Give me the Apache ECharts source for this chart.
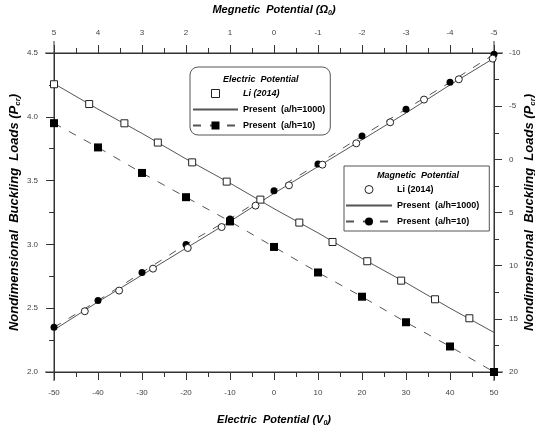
<!DOCTYPE html>
<html>
<head>
<meta charset="utf-8">
<script src="https://cdn.jsdelivr.net/npm/echarts@6/dist/echarts.min.js"></script>
<style>html,body{margin:0;padding:0;background:#fff;}#c{width:535px;height:426px;}</style>
</head>
<body>
<div id="c"></div>
<script>
// ---- data ----
const elecX = [-50, -40, -30, -20, -10, 0, 10, 20, 30, 40, 50];
const elecPresent1000 = [4.26, 4.06, 3.87, 3.67, 3.48, 3.28, 3.09, 2.89, 2.70, 2.50, 2.31];
const elecPresent10 = [3.95, 3.76, 3.56, 3.37, 3.18, 2.98, 2.78, 2.59, 2.39, 2.20, 2.00];
const elecLiX = [-50, -42, -34, -26.4, -18.6, -10.75, -3.1, 5.75, 13.3, 21.2, 28.9, 36.6, 44.4];
const elecLiY = [4.255, 4.10, 3.949, 3.798, 3.643, 3.492, 3.351, 3.171, 3.019, 2.868, 2.716, 2.570, 2.421];

const magX = [5, 4, 3, 2, 1, 0, -1, -2, -3, -4, -5];
const magPresent1000 = [2.33, 2.55, 2.76, 2.97, 3.18, 3.40, 3.61, 3.82, 4.03, 4.25, 4.46];
const magPresent10 = [2.35, 2.56, 2.78, 3.00, 3.20, 3.42, 3.63, 3.85, 4.06, 4.27, 4.49];
const magLiX = [4.3, 3.52, 2.75, 1.96, 1.19, 0.42, -0.34, -1.10, -1.87, -2.64, -3.41, -4.2, -4.97];
const magLiY = [2.476, 2.638, 2.81, 2.972, 3.136, 3.304, 3.463, 3.625, 3.792, 3.957, 4.135, 4.294, 4.456];

const legendNames = {
  'E-Li': 'Li (2014)', 'E-1000': 'Present  (a/h=1000)', 'E-10': 'Present  (a/h=10)',
  'M-Li': 'Li (2014)', 'M-1000': 'Present  (a/h=1000)', 'M-10': 'Present  (a/h=10)'
};

const zip = (xs, ys) => xs.map((x, i) => [x, ys[i]]);

const FONT = 'Arial, "Liberation Sans", sans-serif';
const axisColor = '#333';
const labelStyle = { fontFamily: FONT, fontSize: 8, color: '#444' };
const nameStyle = (size) => ({
  fontFamily: FONT, fontSize: size, fontWeight: 'bold', fontStyle: 'italic', color: '#000',
  rich: { sub: { fontFamily: FONT, fontSize: Math.round(size * 0.62), fontWeight: 'bold', fontStyle: 'italic', color: '#000', verticalAlign: 'bottom', padding: [8, 0, 0, 0] } }
});
const commonAxis = {
  axisLine: { show: true, onZero: false, lineStyle: { color: axisColor, width: 1 } },
  axisTick: { show: true, inside: false, length: 8, lineStyle: { color: axisColor } },
  minorTick: { show: true, splitNumber: 2, length: 5, lineStyle: { color: axisColor } },
  splitLine: { show: false },
  minorSplitLine: { show: false }
};

const greyLine = '#555';
const hollow = { color: '#fff', borderColor: '#222', borderWidth: 1 };

const chart = echarts.init(document.getElementById('c'), null, { renderer: 'canvas' });
chart.setOption({
  animation: false,
  backgroundColor: '#fff',
  grid: { left: 54, right: 41, top: 53, bottom: 54, containLabel: false, outerBoundsMode: 'none' },
  title: [
    { text: 'Electric  Potential', left: 223, top: 75, padding: 0,
      textStyle: { fontFamily: FONT, fontSize: 9, fontWeight: 'bold', fontStyle: 'italic', color: '#000' } },
    { text: 'Magnetic  Potential', left: 377, top: 171, padding: 0,
      textStyle: { fontFamily: FONT, fontSize: 9, fontWeight: 'bold', fontStyle: 'italic', color: '#000' } }
  ],
  legend: [
    {
      orient: 'vertical', left: 190, top: 67, padding: [22, 5, 5, 2],
      itemWidth: 45, itemHeight: 10, itemGap: 7,
      borderColor: '#555', borderWidth: 1, borderRadius: 8, selectedMode: false,
      textStyle: { fontFamily: FONT, fontSize: 9, fontWeight: 'bold', color: '#000' },
      formatter: n => legendNames[n],
      data: [
        { name: 'E-Li', textStyle: { fontStyle: 'italic' }, itemStyle: hollow },
        { name: 'E-1000', itemStyle: { opacity: 0 } },
        { name: 'E-10' }
      ]
    },
    {
      orient: 'vertical', left: 344, top: 166, padding: [19, 10, 5, 1],
      itemWidth: 46, itemHeight: 10, itemGap: 7,
      borderColor: '#555', borderWidth: 1, borderRadius: 0, selectedMode: false,
      textStyle: { fontFamily: FONT, fontSize: 9, fontWeight: 'bold', color: '#000' },
      formatter: n => legendNames[n],
      data: [
        { name: 'M-Li', itemStyle: hollow },
        { name: 'M-1000', itemStyle: { opacity: 0 } },
        { name: 'M-10' }
      ]
    }
  ],
  xAxis: [
    Object.assign({}, commonAxis, {
      type: 'value', position: 'bottom', min: -50, max: 50, interval: 10,
      axisLabel: Object.assign({ margin: 17 }, labelStyle),
      name: 'Electric  Potential (V{sub|0})', nameLocation: 'middle', nameGap: 40,
      nameTextStyle: nameStyle(11)
    }),
    Object.assign({}, commonAxis, {
      type: 'value', position: 'top', inverse: true, min: -5, max: 5, interval: 1,
      axisLabel: Object.assign({ margin: 16 }, labelStyle),
      name: 'Megnetic  Potential (\u03A9{sub|0})', nameLocation: 'middle', nameGap: 36,
      nameTextStyle: nameStyle(11)
    })
  ],
  yAxis: [
    Object.assign({}, commonAxis, {
      type: 'value', position: 'left', min: 2, max: 4.5, interval: 0.5,
      axisLabel: Object.assign({ margin: 16, formatter: v => v.toFixed(1) }, labelStyle),
      name: 'Nondimensional  Buckling  Loads (P{sub|cr})', nameLocation: 'middle', nameRotate: 90, nameGap: 32,
      nameMoveOverlap: false,
      nameTextStyle: nameStyle(13)
    }),
    Object.assign({}, commonAxis, {
      type: 'value', position: 'right', inverse: true, min: -10, max: 20, interval: 5,
      axisLabel: Object.assign({ margin: 15 }, labelStyle),
      name: 'Nondimensional  Buckling  Loads (P{sub|cr})', nameLocation: 'middle', nameRotate: 90, nameGap: 27,
      nameMoveOverlap: false,
      nameTextStyle: nameStyle(13)
    })
  ],
  series: [
    { name: 'E-1000', type: 'line', xAxisIndex: 0, yAxisIndex: 0, data: zip(elecX, elecPresent1000),
      symbol: 'none', clip: false, silent: true, z: 2,
      itemStyle: { color: greyLine }, lineStyle: { color: greyLine, width: 1 } },
    { name: 'E-10', type: 'line', xAxisIndex: 0, yAxisIndex: 0, data: zip(elecX, elecPresent10),
      symbol: 'rect', symbolSize: 8, clip: false, silent: true, z: 3,
      itemStyle: { color: '#000' }, lineStyle: { color: greyLine, width: 1, type: [8, 9] } },
    { name: 'E-Li', type: 'line', xAxisIndex: 0, yAxisIndex: 0, data: zip(elecLiX, elecLiY),
      symbol: 'rect', symbolSize: 7, clip: false, silent: true, z: 4,
      itemStyle: hollow, lineStyle: { opacity: 0 } },
    { name: 'M-1000', type: 'line', xAxisIndex: 1, yAxisIndex: 0, data: zip(magX, magPresent1000),
      symbol: 'none', clip: false, silent: true, z: 2,
      itemStyle: { color: greyLine }, lineStyle: { color: greyLine, width: 1 } },
    { name: 'M-10', type: 'line', xAxisIndex: 1, yAxisIndex: 0, data: zip(magX, magPresent10),
      symbol: 'circle', symbolSize: 7, clip: false, silent: true, z: 3,
      itemStyle: { color: '#000' }, lineStyle: { color: greyLine, width: 1, type: [8, 9] } },
    { name: 'M-Li', type: 'line', xAxisIndex: 1, yAxisIndex: 0, data: zip(magLiX, magLiY),
      symbol: 'circle', symbolSize: 7, clip: false, silent: true, z: 4,
      itemStyle: hollow, lineStyle: { opacity: 0 } }
  ]
});

// axis lines in the reference run a little past the plot corners
const bl = chart.convertToPixel({ xAxisIndex: 0, yAxisIndex: 0 }, [-50, 2]);
const tr = chart.convertToPixel({ xAxisIndex: 0, yAxisIndex: 0 }, [50, 4.5]);
const ext = 9;
const ls = { stroke: axisColor, lineWidth: 1 };
chart.setOption({
  graphic: [
    { type: 'line', silent: true, shape: { x1: bl[0] - ext, y1: bl[1], x2: tr[0] + ext, y2: bl[1] }, style: ls },
    { type: 'line', silent: true, shape: { x1: bl[0] - ext, y1: tr[1], x2: tr[0] + ext, y2: tr[1] }, style: ls },
    { type: 'line', silent: true, shape: { x1: bl[0], y1: tr[1] - 12, x2: bl[0], y2: bl[1] + ext }, style: ls },
    { type: 'line', silent: true, shape: { x1: tr[0], y1: tr[1] - 12, x2: tr[0], y2: bl[1] + ext }, style: ls }
  ]
});
</script>
</body>
</html>
